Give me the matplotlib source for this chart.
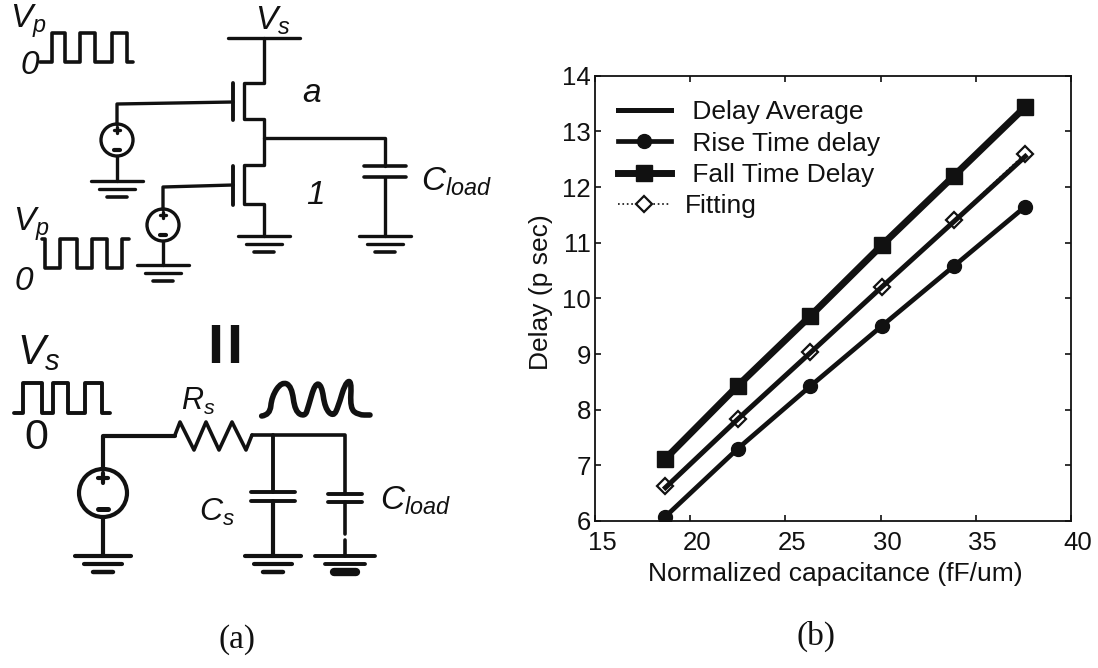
import numpy as np
import matplotlib
matplotlib.use("Agg")
import matplotlib.pyplot as plt
from matplotlib.patches import Circle, PathPatch
from matplotlib.path import Path
from matplotlib.transforms import ScaledTranslation

plt.rcParams['font.family'] = ['Liberation Sans', 'DejaVu Sans']
plt.rcParams['mathtext.fontset'] = 'custom'
plt.rcParams['mathtext.rm'] = 'Liberation Sans'
plt.rcParams['mathtext.it'] = 'Liberation Sans:italic'

# --- chart data ---
cap = [18.7, 22.5, 26.3, 30.05, 33.85, 37.6]
delay_avg = [6.6, 7.83, 9.02, 10.2, 11.38, 12.55]
rise_delay = [6.08, 7.3, 8.42, 9.5, 10.58, 11.65]
fall_delay = [7.12, 8.43, 9.68, 10.95, 12.2, 13.44]
fitting = [6.63, 7.84, 9.03, 10.2, 11.4, 12.6]
x_ticks = [15, 20, 25, 30, 35, 40]
y_ticks = [6, 7, 8, 9, 10, 11, 12, 13, 14]

INK = '#111111'

fig = plt.figure(figsize=(10.98, 6.68), dpi=100, facecolor='white')

# --- schematic layer, in picture pixels ---
sch = fig.add_axes([0, 0, 1, 1])
sch.set_xlim(0, 1098)
sch.set_ylim(668, 0)
sch.axis('off')


def wire(xs, ys, lw=2.4, cap='round'):
    sch.plot(xs, ys, color=INK, lw=lw, solid_capstyle=cap, solid_joinstyle='round')


def ground(x, y, w1=26, w2=18, w3=10, lw=2.4, lw3=2.6):
    wire([x - w1, x + w1], [y, y], lw)
    wire([x - w2, x + w2], [y + 8, y + 8], lw)
    wire([x - w3, x + w3], [y + 16, y + 16], lw3)


def source(x, y, r=16, lw=2.4, mark=3):
    sch.add_patch(Circle((x, y), r, fill=False, ec=INK, lw=lw))
    wire([x - mark, x + mark], [y - r * 0.62, y - r * 0.62], lw)
    wire([x, x], [y - r * 0.62 - mark, y - r * 0.62 + mark], lw)
    wire([x - mark, x + mark], [y + r * 0.65, y + r * 0.65], lw + 0.6)


def cap_sym(x, y1, y2, half, lw=2.6):
    wire([x - half, x + half], [y1, y1], lw)
    wire([x - half, x + half], [y2, y2], lw)


def label(x, y, s, size=19, **kw):
    sch.text(x, y, s, fontsize=size, color=INK, ha='left', va='center', **kw)


# top circuit: transistor pair
wire([228, 300], [38, 38])
wire([264, 264, 244, 244, 264, 264, 244, 244, 264, 264],
     [38, 83, 83, 119, 119, 165, 165, 204, 204, 236])
wire([233, 233], [83, 120], 2.8)
wire([233, 233], [166, 205], 2.8)
ground(264, 236)
wire([233, 117, 117], [102, 104, 125])
source(117, 140)
wire([117, 117], [156, 181])
ground(117, 181)
wire([233, 163, 163], [185, 187, 210])
source(163, 225)
wire([163, 163], [241, 265])
ground(163, 265)
wire([264, 385, 385], [138, 138, 166])
cap_sym(385, 166, 177, 21)
wire([385, 385], [177, 236])
ground(385, 236)

wire([40, 52, 52, 65, 65, 80, 80, 95, 95, 112, 112, 127, 127, 133],
     [62, 62, 33, 33, 62, 62, 33, 33, 62, 62, 33, 33, 62, 62], 2.6)
wire([42, 45, 45, 60, 60, 77, 77, 92, 92, 107, 107, 122, 122, 129],
     [239, 239, 268, 268, 239, 239, 268, 268, 239, 239, 268, 268, 239, 239], 2.6)

label(10, 21, r'$V_p$', 24)
label(21, 65, '0', 24, style='italic')
label(13, 224, r'$V_p$', 24)
label(15, 281, '0', 24, style='italic')
label(255, 21, r'$V_s$', 24)
label(302, 94, 'a', 24, style='italic')
label(306, 195, '1', 24, style='italic')
label(421, 182, r'$C_{load}$', 24)

# bottom circuit: equivalent RC
wire([14, 23, 23, 42, 42, 53, 53, 68, 68, 85, 85, 102, 102, 110],
     [413, 413, 383, 383, 413, 413, 383, 383, 413, 413, 383, 383, 413, 413], 2.8)
wire([103, 103, 175], [470, 436, 436], 3)
wire([175, 180, 194, 206, 219, 232, 246, 252], [435, 422, 450, 422, 450, 422, 450, 435], 2.6)
wire([252, 345, 345], [435, 435, 494], 2.6)
source(103, 493, 24, 3, 5)
wire([103, 103], [517, 556], 3)
ground(103, 556, 28, 19, 10, 3, 3.2)
wire([273, 273], [435, 492], 2.8)
cap_sym(273, 492, 501, 22, 2.8)
wire([273, 273], [501, 556], 3)
ground(273, 556, 28, 19, 10, 3, 3.2)
cap_sym(345, 494, 502, 17, 2.8)
wire([345, 345], [502, 534], 2.6)
wire([345, 345], [540, 556], 2.6)
ground(345, 556, 30, 20, 11, 2.8, 6)

wire([216, 216], [325, 363], 6.0, cap='butt')
wire([235, 235], [325, 363], 6.0, cap='butt')

# response waveform, smoothed through hand picked control points
rc_x = np.array([785, 810, 815, 845, 875, 885, 915, 925, 945, 965, 975, 1000, 1015, 1035, 1055, 1050, 1075, 1110]) / 3
rc_y = np.array([348, 345, 290, 245, 258, 335, 350, 320, 250, 255, 325, 350, 320, 250, 240, 325, 345, 345]) / 3 + 300
verts = [(rc_x[0], rc_y[0])]
codes = [Path.MOVETO]
for i in range(1, len(rc_x) - 1):
    verts += [(rc_x[i], rc_y[i]), ((rc_x[i] + rc_x[i + 1]) / 2, (rc_y[i] + rc_y[i + 1]) / 2)]
    codes += [Path.CURVE3, Path.CURVE3]
verts.append((rc_x[-1], rc_y[-1]))
codes.append(Path.LINETO)
sch.add_patch(PathPatch(Path(verts, codes), fill=False, ec=INK, lw=4, capstyle='round', joinstyle='round'))

label(17, 353, r'$V_s$', 30)
sch.text(36, 438, '0', fontsize=31, color=INK, ha='center', va='center')
label(181, 401, r'$R_s$', 22)
label(199, 512, r'$C_s$', 23)
label(380, 501, r'$C_{load}$', 24)

sch.text(237, 640, '(a)', fontsize=24, color=INK, ha='center', va='center', family='Liberation Serif')
sch.text(816, 636, '(b)', fontsize=24, color=INK, ha='center', va='center', family='Liberation Serif')

# --- delay chart ---
ax = fig.add_axes([595 / 1098, (668 - 521) / 668, 476 / 1098, 445.3 / 668])
ax.patch.set_alpha(0)

ax.plot(cap, fitting, color=INK, ls=':', lw=1.2, marker='D', ms=7.8, mfc='white', mec=INK, mew=1.6,
        label='Fitting', zorder=2)
ax.plot(cap, delay_avg, color=INK, lw=3.6, label=' Delay Average', zorder=3)
ax.plot(cap, rise_delay, color=INK, lw=3.4, marker='o', ms=10, label=' Rise Time delay', zorder=3)
ax.plot(cap, fall_delay, color=INK, lw=5, marker='s', ms=11, label=' Fall Time Delay', zorder=3)

ax.set_xlim(15, 40)
ax.set_ylim(6, 14)
ax.set_xticks(x_ticks)
ax.set_yticks(y_ticks)
ax.tick_params(direction='in', top=True, right=True, length=4, width=1.2, labelsize=18.5, pad=3, colors=INK)
ax.tick_params(axis='x', pad=7)
for s in ax.spines.values():
    s.set_linewidth(1.3)
    s.set_color(INK)
    s.set_zorder(1)
for t in ax.get_xticklabels():
    t.set_transform(t.get_transform() + ScaledTranslation(7 / 100, 0, fig.dpi_scale_trans))

ax.set_xlabel('Normalized capacitance (fF/um)', fontsize=19, color=INK)
ax.set_ylabel('Delay (p sec)', fontsize=19, color=INK)
ax.xaxis.set_label_coords(0.505, -0.092, ax.transAxes)
ax.yaxis.set_label_coords(-0.089, 0.515, ax.transAxes)

handles, names = ax.get_legend_handles_labels()
order = [1, 2, 3, 0]
leg = ax.legend([handles[i] for i in order], [names[i] for i in order], loc='upper left',
                bbox_to_anchor=(0.048, 0.945), frameon=False, fontsize=19, handlelength=2.0,
                handletextpad=0.53, labelspacing=0.28, borderaxespad=0, borderpad=0, labelcolor=INK)

fig.savefig('out.png', dpi=100)
